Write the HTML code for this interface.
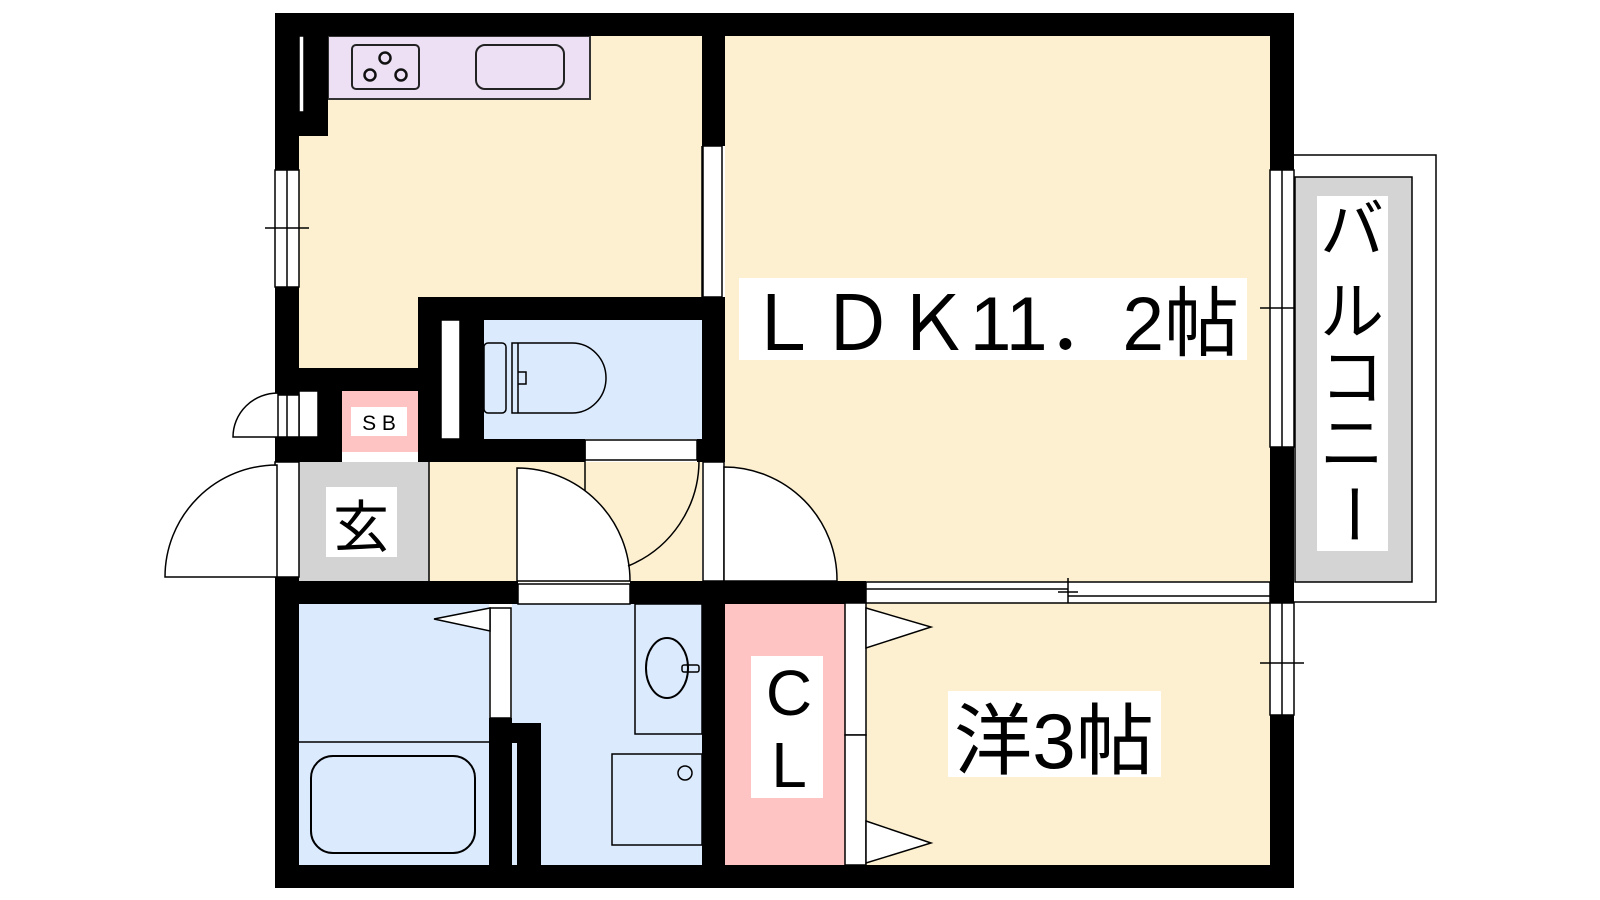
<!DOCTYPE html>
<html><head><meta charset="utf-8"><style>
html,body{margin:0;padding:0;background:#fff;width:1600px;height:900px;overflow:hidden}
svg{display:block}
text{font-family:"Liberation Sans","Noto Sans CJK JP",sans-serif;fill:#000}
</style></head><body>
<svg width="1600" height="900" viewBox="0 0 1600 900" xmlns="http://www.w3.org/2000/svg">
<!-- floors -->
<rect x="299" y="36" width="403" height="332" fill="#fdf0d0"/>
<rect x="429" y="462" width="273" height="120" fill="#fdf0d0"/>
<rect x="725" y="36" width="545" height="546" fill="#fdf0d0"/>
<rect x="866" y="603" width="404" height="262" fill="#fdf0d0"/>
<rect x="484" y="320" width="218" height="119" fill="#dbeafd"/>
<rect x="299" y="604" width="190" height="261" fill="#dbeafd"/>
<rect x="512" y="604" width="190" height="261" fill="#dbeafd"/>
<rect x="299" y="462" width="130" height="120" fill="#d3d3d3"/>
<rect x="342" y="391" width="76" height="61" fill="#fec3c3"/>
<rect x="725" y="604" width="120" height="261" fill="#fec3c3"/>
<!-- kitchen counter -->
<rect x="328" y="36" width="262" height="63" fill="#ede0f5" stroke="#333" stroke-width="2"/>
<rect x="352" y="45" width="67" height="44" rx="4" fill="none" stroke="#222" stroke-width="2"/>
<g fill="none" stroke="#111" stroke-width="2.5"><circle cx="385" cy="58" r="5.5"/><circle cx="370" cy="75" r="5.5"/><circle cx="401" cy="75" r="5.5"/></g>
<rect x="476" y="45" width="88" height="44" rx="9" fill="none" stroke="#222" stroke-width="2"/>
<!-- walls -->
<g fill="#000">
<rect x="275" y="13" width="1019" height="23"/>
<rect x="275" y="13" width="24" height="157"/>
<rect x="304" y="36" width="24" height="100"/>
<rect x="299" y="112" width="6" height="24"/>
<rect x="702" y="13" width="23" height="133"/>
<rect x="1270" y="13" width="24" height="157"/>
<rect x="275" y="287" width="24" height="108"/>
<rect x="275" y="368" width="143" height="23"/>
<rect x="318" y="391" width="24" height="71"/>
<rect x="275" y="437" width="67" height="25"/>
<rect x="418" y="297" width="307" height="23"/>
<rect x="418" y="297" width="23" height="165"/>
<rect x="460" y="297" width="24" height="165"/>
<rect x="418" y="439" width="167" height="23"/>
<rect x="697" y="439" width="28" height="23"/>
<rect x="702" y="297" width="23" height="165"/>
<rect x="275" y="577" width="24" height="311"/>
<rect x="275" y="581" width="243" height="23"/>
<rect x="630" y="581" width="236" height="23"/>
<rect x="702" y="581" width="23" height="307"/>
<rect x="489" y="718" width="23" height="170"/>
<rect x="512" y="723" width="29" height="20"/>
<rect x="517" y="723" width="24" height="165"/>
<rect x="1270" y="447" width="24" height="156"/>
<rect x="1270" y="715" width="24" height="173"/>
<rect x="275" y="865" width="1019" height="23"/>
</g>
<!-- windows / openings -->
<g fill="#fff" stroke="#000" stroke-width="1.5">
<rect x="299" y="36" width="5" height="76"/>
<rect x="275" y="170" width="24" height="117"/>
<rect x="299" y="391" width="19" height="46"/>
<rect x="275" y="395" width="24" height="42"/>
<rect x="441" y="320" width="19" height="119"/>
<rect x="585" y="440" width="112" height="20"/>
<rect x="703" y="146" width="19" height="151"/>
<rect x="703" y="462" width="21" height="119"/>
<rect x="275" y="462" width="24" height="115"/>
<rect x="518" y="584" width="112" height="20"/>
<rect x="490" y="608" width="21" height="110"/>
<rect x="866" y="582" width="404" height="21"/>
<rect x="1270" y="170" width="24" height="277"/>
<rect x="1270" y="603" width="24" height="112"/>
<rect x="845" y="603" width="21" height="132"/>
<rect x="845" y="735" width="21" height="130"/>
</g>
<g stroke="#000" stroke-width="1.5" fill="none">
<line x1="287" y1="170" x2="287" y2="287"/><line x1="265" y1="228" x2="309" y2="228"/>
<line x1="287" y1="395" x2="287" y2="437"/>
<line x1="1282" y1="170" x2="1282" y2="447"/><line x1="1260" y1="308" x2="1304" y2="308"/>
<line x1="1282" y1="603" x2="1282" y2="715"/><line x1="1260" y1="663" x2="1304" y2="663"/>
<line x1="866" y1="589" x2="1068" y2="589"/><line x1="1068" y1="596" x2="1270" y2="596"/>
<line x1="1068" y1="578" x2="1068" y2="603"/><line x1="1058" y1="592" x2="1078" y2="592"/>
<line x1="702" y1="146" x2="702" y2="297"/>
<line x1="429" y1="462" x2="429" y2="581"/>
<line x1="585" y1="440" x2="585" y2="581"/>
<line x1="299" y1="742" x2="489" y2="742"/>
<!-- doors -->
<path d="M233 437 L278 437 L278 393 A45 44 0 0 0 233 437 Z" fill="#fff"/>
<path d="M165 577 L277 577 L277 465 A112 112 0 0 0 165 577 Z" fill="#fff"/>
<path d="M517 581 L517 468 A113 113 0 0 1 630 581 Z" fill="#fff"/>
<path d="M699 460 A114 114 0 0 1 628 566" fill="none"/>
<path d="M724 581 L724 467 A113 113 0 0 1 837 581 Z" fill="#fff"/>
<path d="M866 608 L931 627 L866 648 Z" fill="#fff"/>
<path d="M866 821 L931 843 L866 863 Z" fill="#fff"/>
<path d="M490 608 L434 619 L490 631 Z" fill="#fff"/>
<!-- toilet -->
<rect x="484" y="343" width="22" height="70" rx="4"/>
<path d="M512 343 L572 343 A34 35 0 0 1 572 413 L512 413 Z"/>
<line x1="518" y1="343" x2="518" y2="413"/>
<path d="M518 372 L526 372 L526 384 L518 384"/>
<!-- bath -->
<rect x="311" y="756" width="164" height="97" rx="22" stroke-width="2"/>
<rect x="635" y="604" width="67" height="130"/>
<ellipse cx="667" cy="668" rx="21" ry="30" stroke-width="2"/>
<rect x="682" y="665" width="17" height="7" rx="2"/>
<rect x="612" y="754" width="90" height="91"/>
<circle cx="685" cy="773" r="7"/>
<!-- balcony -->
<path d="M1294 155 L1436 155 L1436 602 L1294 602"/>
<rect x="1295" y="177" width="117" height="405" fill="#d4d4d4"/>
</g>
<!-- labels -->
<rect x="739" y="278" width="508" height="82" fill="#fff"/>
<text x="745" y="350" font-size="76" textLength="494" lengthAdjust="spacingAndGlyphs">ＬＤＫ11．2帖</text>
<rect x="948" y="691" width="213" height="86" fill="#fff"/>
<text x="954" y="768" font-size="78" textLength="200" lengthAdjust="spacingAndGlyphs">洋3帖</text>
<rect x="751" y="656" width="72" height="142" fill="#fff"/>
<text x="789" y="715" font-size="64" text-anchor="middle">C</text>
<text x="789" y="787" font-size="64" text-anchor="middle">L</text>
<rect x="326" y="487" width="71" height="70" fill="#fff"/>
<text x="361" y="547" font-size="56" text-anchor="middle">玄</text>
<rect x="351" y="407" width="56" height="29" fill="#fff"/>
<text x="379" y="430" font-size="21" text-anchor="middle">S B</text>
<rect x="1317" y="196" width="71" height="355" fill="#fff"/>
<g font-size="64" text-anchor="middle">
<text x="1352" y="252">バ</text>
<text x="1352" y="334">ル</text>
<text x="1352" y="400">コ</text>
<text x="1352" y="466">ニ</text>
<text x="1352" y="514" transform="rotate(90 1352 514)" dy="22">ー</text>
</g>
</svg>
</body></html>
